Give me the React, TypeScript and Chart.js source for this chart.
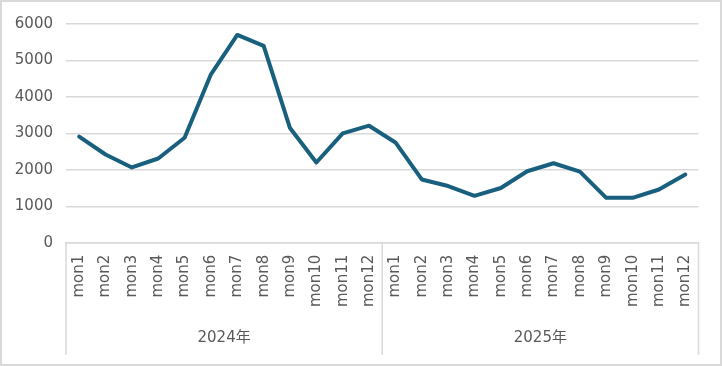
import React, { useEffect, useRef } from "react";
import { Chart, registerables } from "chart.js";

Chart.register(...registerables);

const months = ["mon1", "mon2", "mon3", "mon4", "mon5", "mon6", "mon7", "mon8", "mon9", "mon10", "mon11", "mon12"];
const years = ["2024年", "2025年"];
const values2024 = [2910, 2420, 2065, 2310, 2880, 4620, 5700, 5400, 3145, 2200, 3000, 3210];
const values2025 = [2750, 1735, 1555, 1285, 1500, 1960, 2180, 1950, 1230, 1230, 1460, 1870];
const yMin = 0;
const yMax = 6000;
const yStep = 1000;

const FONT_FAMILY = '"DejaVu Sans", "Noto Sans CJK SC", sans-serif';
const TEXT_COLOR = "#595959";
const GRID_COLOR = "#d9d9d9";
const LINE_COLOR = "#19607f";

const groupPlugin = {
  id: "groupLabels",
  afterDraw(chart: any) {
    const { ctx, chartArea } = chart;
    const x = chart.scales.x;
    const n = months.length;
    const bounds: number[] = [chartArea.left];
    for (let g = 1; g < years.length; g++) {
      bounds.push((x.getPixelForValue(g * n - 1) + x.getPixelForValue(g * n)) / 2);
    }
    bounds.push(chartArea.right);
    ctx.save();
    ctx.strokeStyle = GRID_COLOR;
    ctx.lineWidth = 1.5;
    const top = chartArea.bottom;
    const bottom = chart.height - 9.3;
    bounds.forEach((b) => {
      ctx.beginPath();
      ctx.moveTo(b, top);
      ctx.lineTo(b, bottom);
      ctx.stroke();
    });
    ctx.fillStyle = TEXT_COLOR;
    ctx.font = `15px ${FONT_FAMILY}`;
    ctx.textAlign = "center";
    ctx.textBaseline = "middle";
    years.forEach((yr, i) => {
      ctx.fillText(yr, (bounds[i] + bounds[i + 1]) / 2, chart.height - 26);
    });
    ctx.restore();
  },
};

export default function App() {
  const canvasRef = useRef<HTMLCanvasElement | null>(null);

  useEffect(() => {
    document.body.style.margin = "0";
    const canvas = canvasRef.current;
    if (!canvas) return;
    const labels = [...months, ...months];
    const data = [...values2024, ...values2025];
    const chart = new Chart(canvas, {
      type: "line",
      data: {
        labels,
        datasets: [
          {
            data,
            borderColor: LINE_COLOR,
            backgroundColor: LINE_COLOR,
            borderWidth: 4,
            pointRadius: 0,
            pointHoverRadius: 0,
            tension: 0,
            borderJoinStyle: "round",
            borderCapStyle: "round",
            fill: false,
          },
        ],
      },
      options: {
        animation: false,
        responsive: true,
        maintainAspectRatio: false,
        layout: { padding: { top: 20.7, right: 21.5, left: 0, bottom: 0 } },
        plugins: {
          legend: { display: false },
          tooltip: { enabled: false },
        },
        scales: {
          x: {
            type: "category",
            offset: true,
            grid: { display: false, drawTicks: false },
            border: { display: true, color: GRID_COLOR, width: 1.5 },
            ticks: {
              autoSkip: false,
              minRotation: 90,
              maxRotation: 90,
              padding: 12,
              color: TEXT_COLOR,
              font: { family: FONT_FAMILY, size: 15 },
            },
            afterFit: (scale: any) => {
              scale.height = 121.3;
            },
          },
          y: {
            min: yMin,
            max: yMax,
            ticks: {
              stepSize: yStep,
              padding: 13,
              color: TEXT_COLOR,
              font: { family: FONT_FAMILY, size: 15 },
              callback: (value: any) => String(value),
            },
            grid: { color: GRID_COLOR, lineWidth: 1.5, drawTicks: false },
            border: { display: false },
            afterFit: (scale: any) => {
              scale.width = 64;
            },
          },
        },
      },
      plugins: [groupPlugin],
    });
    return () => chart.destroy();
  }, []);

  return (
    <div
      style={{
        width: 718,
        height: 362,
        border: "2px solid #d9d9d9",
        position: "relative",
        background: "#fff",
      }}
    >
      <canvas ref={canvasRef} />
    </div>
  );
}
